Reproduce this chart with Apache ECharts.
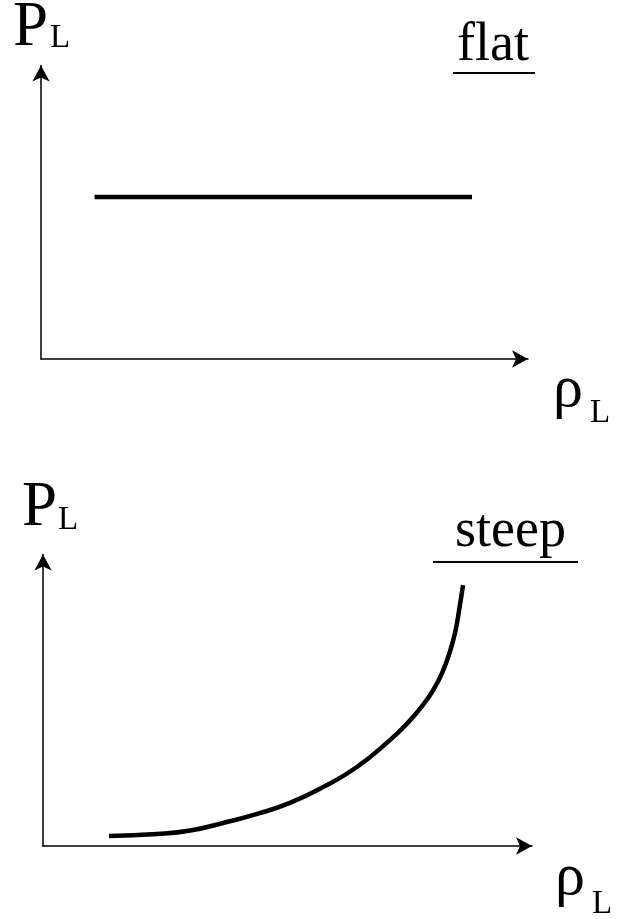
<!DOCTYPE html>
<html>
<head>
<meta charset="utf-8">
<script src="https://cdn.jsdelivr.net/npm/echarts@6/dist/echarts.min.js"></script>
<style>
  html, body { margin: 0; padding: 0; background: #fff; }
  #main { width: 617px; height: 919px; }
</style>
</head>
<body>
<div id="main"></div>
<script>
// flat P_L vs rho_L
var flatX = [11.0, 88.5];
var flatY = [55.2, 55.2];
// steep P_L vs rho_L
var steepX = [13.5, 23.3, 30.1, 36.8, 43.8, 50.5, 57.3, 64.2, 71.0, 74.4, 77.7, 79.8, 81.6, 83.2, 84.3, 85.1, 85.9];
var steepY = [3.4, 4.1, 5.3, 7.9, 11.0, 14.8, 20.2, 27.1, 36.4, 41.9, 48.4, 53.5, 59.3, 66.6, 73.4, 81.0, 89.5];

function pairs(xs, ys) {
  return xs.map(function (x, i) { return [x, ys[i]]; });
}

var chart = echarts.init(document.getElementById('main'), null, { renderer: 'canvas' });

var serif = '"Liberation Serif", "DejaVu Serif", serif';
var axisLine = {
  show: true,
  symbol: ['none', 'arrow'],
  symbolSize: [13, 16],
  lineStyle: { color: '#000', width: 1.5 }
};
function ax(idx) {
  return {
    type: 'value', gridIndex: idx, min: 0, max: 100,
    axisLine: axisLine, axisTick: { show: false },
    axisLabel: { show: false }, splitLine: { show: false }
  };
}

function txt(s, x, y, size) {
  return {
    type: 'text', left: x, top: y,
    style: { text: s, font: size + 'px ' + serif, fill: '#000' }
  };
}

var option = {
  backgroundColor: '#ffffff',
  animation: false,
  grid: [
    { left: 41, top: 65.5, right: 89, bottom: 560 },
    { left: 43, top: 554.5, right: 85, bottom: 73 }
  ],
  xAxis: [ax(0), ax(1)],
  yAxis: [ax(0), ax(1)],
  series: [
    {
      type: 'line', xAxisIndex: 0, yAxisIndex: 0,
      data: pairs(flatX, flatY),
      symbol: 'none',
      lineStyle: { color: '#000', width: 4.5, cap: 'butt' }
    },
    {
      type: 'line', xAxisIndex: 1, yAxisIndex: 1,
      data: pairs(steepX, steepY),
      smooth: 0.5, symbol: 'none',
      lineStyle: { color: '#000', width: 4.5, cap: 'butt' }
    }
  ],
  graphic: [
    txt('P', 13, -3, 63),
    txt('L', 50, 22, 33),
    txt('flat', 457, 19, 54),
    { type: 'line', shape: { x1: 453, y1: 73, x2: 535, y2: 73 }, style: { stroke: '#000', lineWidth: 2 } },
    txt('ρ', 553, 360, 60),
    txt('L', 590, 397, 33),

    txt('P', 22, 477, 63),
    txt('L', 58, 504, 33),
    txt('steep', 455, 505, 54),
    { type: 'line', shape: { x1: 433, y1: 562, x2: 578, y2: 562 }, style: { stroke: '#000', lineWidth: 2 } },
    txt('ρ', 555, 848, 60),
    txt('L', 592, 888, 33)
  ]
};
chart.setOption(option);
</script>
</body>
</html>
